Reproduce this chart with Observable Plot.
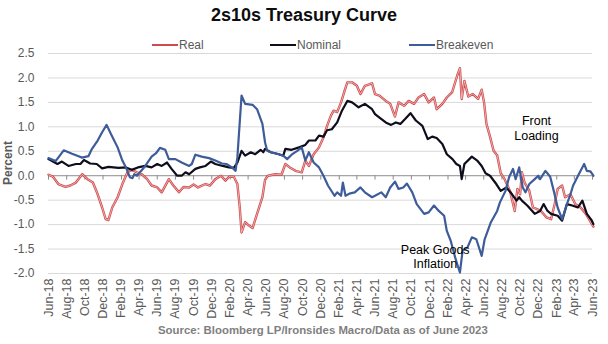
<!DOCTYPE html>
<html>
<head>
<meta charset="utf-8">
<script src="https://cdn.jsdelivr.net/npm/d3@7"></script>
<script src="https://cdn.jsdelivr.net/npm/@observablehq/plot@0.6"></script>
<style>
  html, body { margin: 0; padding: 0; background: #fff; }
  #wrap { position: relative; width: 608px; height: 344px; font-family: "Liberation Sans", Arial, sans-serif; overflow: hidden; }
  #title { position: absolute; top: 5px; left: 0; width: 608px; text-align: center; font-weight: bold; font-size: 18px; color: #0d0d0d; }
  #legend { position: absolute; top: 37px; left: 0; width: 608px; height: 16px; font-size: 12px; color: #595959; }
  .item { position: absolute; top: 0; display: flex; align-items: center; height: 16px; }
  .sw { display: inline-block; width: 26px; height: 2px; margin-right: 1px; }
  #ylab { position: absolute; left: 8px; top: 163px; transform: translate(-50%, -50%) rotate(-90deg); font-weight: bold; font-size: 12px; color: #595959; white-space: nowrap; }
  #caption { position: absolute; top: 324px; left: 158px; font-weight: bold; font-size: 11.4px; color: #7f7f7f; white-space: nowrap; }
  #chart { position: absolute; top: 0; left: 0; }
</style>
</head>
<body>
<div id="wrap">
  <div id="chart"></div>
  <div id="title">2s10s Treasury Curve</div>
  <div id="legend"></div>
  <div id="ylab">Percent</div>
  <div id="caption">Source: Bloomberg LP/Ironsides Macro/Data as of June 2023</div>
</div>
<script>
// ---- Data ----
const seriesNames = ["Real", "Nominal", "Breakeven"];
const seriesColors = ["#cf4a4c", "#0d0d1c", "#3e5c9a"];

const real = [
  ["2018-06-01",0.02],["2018-06-16",-0.02],["2018-07-04",-0.17],["2018-07-28",-0.23],["2018-08-13",-0.2],
  ["2018-09-01",-0.14],["2018-09-22",0.03],["2018-10-10",-0.07],["2018-10-28",-0.14],["2018-11-13",-0.38],
  ["2018-11-28",-0.65],["2018-12-10",-0.89],["2018-12-19",-0.91],["2019-01-01",-0.65],["2019-01-19",-0.44],
  ["2019-02-04",-0.17],["2019-02-21",0.07],["2019-03-07",0.12],["2019-03-25",0.07],["2019-04-10",0.03],
  ["2019-04-28",-0.07],["2019-05-13",-0.2],["2019-06-01",-0.24],["2019-06-16",-0.34],["2019-07-10",-0.07],
  ["2019-07-25",-0.2],["2019-08-13",-0.34],["2019-08-28",-0.23],["2019-09-16",-0.24],["2019-10-01",-0.18],
  ["2019-10-16",-0.24],["2019-11-10",-0.17],["2019-11-25",-0.2],["2019-12-13",-0.07],["2020-01-01",0.0],
  ["2020-01-16",-0.1],["2020-01-28",-0.02],["2020-02-13",-0.02],["2020-02-25",-0.17],["2020-03-04",-0.65],
  ["2020-03-10",-1.16],["2020-03-22",-0.95],["2020-04-04",-1.02],["2020-04-16",-1.07],["2020-05-01",-0.78],
  ["2020-05-19",-0.44],["2020-05-28",-0.08],["2020-06-07",0.0],["2020-07-01",0.03],["2020-07-22",0.02],
  ["2020-08-04",0.24],["2020-08-19",0.17],["2020-09-07",0.1],["2020-09-28",0.07],["2020-10-10",0.31],
  ["2020-10-22",0.2],["2020-11-07",0.44],["2020-11-25",0.58],["2020-12-10",0.78],["2020-12-22",1.02],
  ["2021-01-04",1.23],["2021-01-13",1.33],["2021-01-25",1.3],["2021-02-07",1.5],["2021-02-19",1.74],
  ["2021-02-28",1.91],["2021-03-16",1.91],["2021-04-01",1.84],["2021-04-13",1.67],["2021-04-28",1.84],
  ["2021-05-22",1.89],["2021-06-01",1.67],["2021-06-16",1.64],["2021-07-07",1.53],["2021-07-22",1.47],
  ["2021-08-07",1.21],["2021-08-19",1.5],["2021-09-07",1.43],["2021-09-22",1.53],["2021-10-10",1.47],
  ["2021-10-25",1.6],["2021-11-13",1.67],["2021-11-28",1.5],["2021-12-16",1.6],["2021-12-25",1.36],
  ["2022-01-13",1.47],["2022-01-28",1.6],["2022-02-15",1.71],["2022-03-04",2.05],["2022-03-13",2.2],
  ["2022-03-19",1.57],["2022-03-28",1.94],["2022-04-10",1.62],["2022-04-25",1.67],["2022-05-13",1.57],
  ["2022-05-25",1.76],["2022-06-02",1.5],["2022-06-10",1.06],["2022-06-22",0.8],["2022-07-04",0.51],
  ["2022-07-16",0.42],["2022-07-28",0.05],["2022-08-10",-0.07],["2022-08-28",-0.31],["2022-09-13",-0.72],
  ["2022-09-22",-0.27],["2022-10-01",-0.38],["2022-10-07",0.07],["2022-10-16",-0.14],["2022-11-01",-0.31],
  ["2022-11-13",-0.65],["2022-11-25",-0.68],["2022-12-10",-0.72],["2022-12-28",-0.85],["2023-01-13",-0.89],
  ["2023-01-25",-0.58],["2023-02-04",-0.27],["2023-02-19",-0.2],["2023-03-01",-0.44],["2023-03-19",-0.38],
  ["2023-04-04",-0.58],["2023-04-22",-0.65],["2023-05-10",-0.78],["2023-05-30",-0.99],["2023-06-04",-1.04]
];

const nominal = [
  ["2018-06-01",0.34],["2018-07-01",0.24],["2018-07-16",0.29],["2018-08-07",0.2],["2018-09-01",0.24],
  ["2018-09-16",0.24],["2018-09-28",0.32],["2018-10-19",0.25],["2018-11-10",0.24],["2018-11-28",0.15],
  ["2018-12-19",0.18],["2019-01-22",0.16],["2019-02-16",0.17],["2019-03-07",0.12],["2019-03-28",0.17],
  ["2019-04-22",0.2],["2019-05-13",0.17],["2019-06-01",0.24],["2019-06-16",0.2],["2019-07-04",0.27],
  ["2019-07-19",0.14],["2019-08-07",0.0],["2019-08-22",0.0],["2019-09-04",0.07],["2019-09-16",0.03],
  ["2019-10-07",0.14],["2019-10-22",0.17],["2019-11-10",0.2],["2019-11-28",0.29],["2019-12-13",0.24],
  ["2020-01-07",0.2],["2020-01-28",0.17],["2020-02-13",0.16],["2020-02-25",0.27],["2020-03-10",0.51],
  ["2020-03-22",0.41],["2020-04-10",0.48],["2020-04-25",0.44],["2020-05-13",0.53],["2020-05-22",0.48],
  ["2020-05-28",0.55],["2020-06-16",0.48],["2020-07-13",0.44],["2020-07-28",0.41],["2020-08-04",0.55],
  ["2020-08-25",0.53],["2020-09-19",0.58],["2020-10-10",0.63],["2020-10-22",0.72],["2020-11-13",0.72],
  ["2020-11-25",0.82],["2020-12-10",0.8],["2020-12-22",0.93],["2021-01-07",0.95],["2021-01-25",1.09],
  ["2021-02-10",1.33],["2021-02-28",1.53],["2021-03-16",1.5],["2021-04-07",1.4],["2021-04-28",1.47],
  ["2021-05-22",1.36],["2021-06-01",1.26],["2021-06-16",1.19],["2021-07-07",1.09],["2021-07-25",1.04],
  ["2021-08-10",1.09],["2021-08-25",1.06],["2021-09-10",1.16],["2021-09-28",1.28],["2021-10-16",1.13],
  ["2021-11-07",1.02],["2021-11-25",0.75],["2021-12-10",0.8],["2021-12-25",0.77],["2022-01-13",0.65],
  ["2022-01-28",0.44],["2022-02-16",0.34],["2022-03-01",0.24],["2022-03-13",0.2],["2022-03-19",-0.07],
  ["2022-03-28",0.24],["2022-04-22",0.39],["2022-05-10",0.31],["2022-05-25",0.2],["2022-06-07",0.05],
  ["2022-06-22",0.0],["2022-07-13",-0.17],["2022-07-28",-0.31],["2022-08-16",-0.24],["2022-09-04",-0.38],
  ["2022-09-19",-0.51],["2022-09-28",-0.44],["2022-10-07",-0.51],["2022-10-25",-0.61],["2022-11-19",-0.78],
  ["2022-12-07",-0.72],["2022-12-19",-0.58],["2023-01-01",-0.72],["2023-01-13",-0.78],["2023-02-04",-0.82],
  ["2023-02-19",-0.92],["2023-03-07",-0.58],["2023-03-25",-0.61],["2023-04-13",-0.65],["2023-04-28",-0.51],
  ["2023-05-13",-0.78],["2023-05-30",-0.92],["2023-06-04",-0.99]
];

const breakeven = [
  ["2018-06-01",0.36],["2018-06-25",0.3],["2018-07-22",0.52],["2018-08-19",0.45],["2018-09-10",0.4],
  ["2018-09-22",0.37],["2018-10-13",0.4],["2018-10-25",0.55],["2018-11-13",0.72],["2018-11-28",0.89],
  ["2018-12-13",1.04],["2018-12-28",0.85],["2019-01-19",0.58],["2019-02-04",0.31],["2019-02-16",0.17],
  ["2019-03-01",-0.03],["2019-03-10",-0.05],["2019-03-16",0.03],["2019-03-25",0.0],["2019-04-22",0.2],
  ["2019-05-13",0.39],["2019-05-28",0.46],["2019-06-10",0.57],["2019-06-28",0.53],["2019-07-10",0.34],
  ["2019-08-01",0.34],["2019-08-22",0.27],["2019-09-16",0.2],["2019-09-25",0.24],["2019-10-07",0.43],
  ["2019-10-28",0.39],["2019-11-22",0.36],["2019-12-13",0.31],["2020-01-04",0.25],["2020-01-19",0.24],
  ["2020-02-07",0.17],["2020-02-19",0.1],["2020-02-25",0.38],["2020-03-10",1.64],["2020-03-22",1.47],
  ["2020-04-16",1.45],["2020-05-01",1.36],["2020-05-19",1.06],["2020-05-28",0.68],["2020-06-04",0.51],
  ["2020-06-16",0.48],["2020-07-13",0.44],["2020-07-28",0.41],["2020-08-10",0.34],["2020-08-25",0.43],
  ["2020-09-13",0.51],["2020-09-28",0.58],["2020-10-10",0.31],["2020-10-22",0.48],["2020-11-07",0.27],
  ["2020-11-25",0.17],["2020-12-10",0.0],["2020-12-25",-0.2],["2021-01-16",-0.41],["2021-01-25",-0.34],
  ["2021-02-07",-0.41],["2021-02-13",-0.14],["2021-02-22",-0.41],["2021-03-10",-0.36],["2021-03-25",-0.34],
  ["2021-04-13",-0.24],["2021-04-28",-0.34],["2021-05-22",-0.44],["2021-06-01",-0.41],["2021-06-22",-0.34],
  ["2021-07-07",-0.44],["2021-07-22",-0.24],["2021-08-07",-0.12],["2021-08-19",-0.27],["2021-09-04",-0.24],
  ["2021-09-16",-0.16],["2021-10-04",-0.34],["2021-10-19",-0.58],["2021-11-13",-0.78],["2021-11-28",-0.75],
  ["2021-12-16",-0.61],["2022-01-01",-0.72],["2022-01-19",-0.82],["2022-01-28",-1.13],["2022-02-10",-1.33],
  ["2022-02-25",-1.67],["2022-03-04",-1.81],["2022-03-13",-1.98],["2022-03-22",-1.53],["2022-04-07",-1.47],
  ["2022-04-22",-1.26],["2022-05-07",-1.3],["2022-05-25",-1.64],["2022-06-04",-1.3],["2022-06-25",-0.95],
  ["2022-07-16",-0.72],["2022-07-25",-0.55],["2022-08-13",-0.31],["2022-08-25",-0.03],["2022-09-07",0.14],
  ["2022-09-16",-0.07],["2022-09-28",0.17],["2022-10-10",-0.24],["2022-10-19",-0.34],["2022-11-01",-0.17],
  ["2022-11-19",-0.07],["2022-12-01",0.0],["2022-12-07",-0.07],["2022-12-25",0.1],["2023-01-10",-0.02],
  ["2023-01-22",-0.31],["2023-02-04",-0.65],["2023-02-19",-0.89],["2023-03-07",-0.58],["2023-03-19",-0.38],
  ["2023-03-28",-0.2],["2023-04-16",0.03],["2023-05-04",0.24],["2023-05-13",0.1],["2023-05-25",0.09],
  ["2023-06-04",0.0]
];

const yTicks = [-2.0, -1.5, -1.0, -0.5, 0.0, 0.5, 1.0, 1.5, 2.0, 2.5];
const xTickStart = "2018-06-01", xTickEnd = "2023-06-01"; // every 2 months
const annotations = [
  {date: "2022-11-25", value: 0.98, text: "Front\nLoading"},
  {date: "2021-12-20", value: -1.65, text: "Peak Goods\nInflation"}
];

// ---- Build ----
const parse = d3.utcParse("%Y-%m-%d");
const toRows = (arr, name) => arr.map(([d, v]) => ({date: parse(d), value: v, series: name}));
const rows = [
  ...toRows(real, "Real"),
  ...toRows(nominal, "Nominal"),
  ...toRows(breakeven, "Breakeven")
];
const xTicks = d3.utcMonth.range(parse(xTickStart), d3.utcDay.offset(parse(xTickEnd), 1), 2);
const ann = annotations.map(a => ({...a, date: parse(a.date)}));

const byS = s => rows.filter(r => r.series === s);

const chart = Plot.plot({
  width: 608,
  height: 330,
  marginLeft: 48,
  marginRight: 16,
  marginTop: 53,
  marginBottom: 57,
  style: {fontFamily: "'Liberation Sans', Arial, sans-serif", background: "transparent"},
  x: {type: "utc", domain: [parse(xTickStart), parse(xTickEnd)]},
  y: {domain: [-2, 2.5]},
  marks: [
    Plot.ruleY(yTicks.filter(v => v !== 0), {stroke: "#d9d9d9", strokeWidth: 1}),
    Plot.ruleY([0], {stroke: "#8c8c8c", strokeWidth: 1}),
    Plot.ruleX(xTicks, {x: d => d, y1: 0, y2: -0.09, stroke: "#8c8c8c"}),
    Plot.axisY(yTicks, {tickSize: 0, tickPadding: 14, tickFormat: d => d.toFixed(1), fontSize: 12, fill: "#595959", label: null}),
    Plot.axisX(xTicks, {tickSize: 0, tickPadding: 5, tickRotate: -90, tickFormat: d3.utcFormat("%b-%y"), fontSize: 12.5, fill: "#595959", label: null}),
    Plot.line(byS("Real"), {x: "date", y: "value", stroke: seriesColors[0], strokeWidth: 2.4, curve: "linear"}),
    Plot.line(byS("Real"), {x: "date", y: "value", stroke: "#f7d3d3", strokeWidth: 0.7, curve: "linear"}),
    Plot.line(byS("Nominal"), {x: "date", y: "value", stroke: seriesColors[1], strokeWidth: 2.2}),
    Plot.line(byS("Breakeven"), {x: "date", y: "value", stroke: seriesColors[2], strokeWidth: 2.2}),
    Plot.text(ann, {x: "date", y: "value", text: "text", fontSize: 12.5, fill: "#000", lineHeight: 1.15, textAnchor: "middle"})
  ]
});
document.getElementById("chart").appendChild(chart);

// Legend
const legendPos = [152, 270, 409];
const legend = document.getElementById("legend");
seriesNames.forEach((n, i) => {
  const it = document.createElement("div");
  it.className = "item";
  it.style.left = legendPos[i] + "px";
  it.innerHTML = `<span class="sw" style="background:${seriesColors[i]}"></span><span>${n}</span>`;
  legend.appendChild(it);
});
</script>
</body>
</html>
